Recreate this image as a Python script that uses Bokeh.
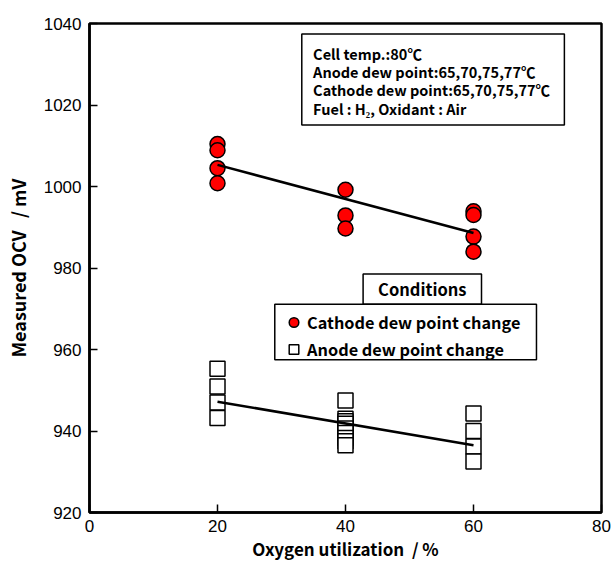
from bokeh.plotting import figure
from bokeh.models import BoxAnnotation, Label, Legend, LegendItem, FixedTicker
from bokeh.embed import file_html
from bokeh.resources import INLINE

# ---- data ----
cathode_x = [20, 20, 20, 20, 40, 40, 40, 60, 60, 60, 60]
cathode_ocv = [1010.4, 1008.9, 1004.5, 1000.8, 999.2, 992.9, 989.7,
               993.9, 993.0, 987.7, 984.0]

anode_x = [20, 20, 20, 20,
           40, 40, 40, 40, 40, 40, 40, 40, 40,
           60, 60, 60, 60]
anode_ocv = [955.3, 950.9, 947.0, 943.2,
             947.5, 943.0, 942.4, 941.8, 940.6, 939.5, 938.3, 937.5, 936.5,
             944.3, 940.0, 936.2, 932.5]

fit_x = [20, 60]
cathode_fit = [1005.3, 988.6]
anode_fit = [947.2, 936.5]

x_ticks = [0, 20, 40, 60, 80]
y_ticks = [920, 940, 960, 980, 1000, 1020, 1040]

info_lines = ["Cell temp.:80℃",
              "Anode dew point:65,70,75,77℃",
              "Cathode dew point:65,70,75,77℃",
              "Fuel : H₂, Oxidant : Air"]
legend_title = "Conditions"
legend_labels = ["Cathode dew point change", "Anode dew point change"]
x_label = "Oxygen utilization\u00a0\u00a0/ %"
y_label = "Measured OCV\u00a0\u00a0\u00a0/ mV"

FONT = "Noto Sans CJK JP"
TFONT = "Liberation Sans"

p = figure(width=611, height=566, x_range=(0, 80), y_range=(920, 1040),
           output_backend="svg", toolbar_location=None,
           min_border_left=89, min_border_right=10, min_border_top=23,
           min_border_bottom=54)

p.xgrid.visible = False
p.ygrid.visible = False
p.outline_line_color = "black"
p.outline_line_width = 2.5
p.outline_line_alpha = 1

for ax in (p.xaxis[0], p.yaxis[0]):
    ax.axis_line_width = 2.5
    ax.major_tick_in = 8
    ax.major_tick_out = 0
    ax.major_tick_line_width = 1.5
    ax.minor_tick_line_color = None
    ax.major_label_text_font = TFONT
    ax.major_label_text_font_size = "17px"
    ax.major_label_text_color = "black"
    ax.axis_label_text_font = FONT
    ax.axis_label_text_font_style = "bold"
    ax.axis_label_text_font_size = "17px"
    ax.axis_label_text_color = "black"

p.xaxis.ticker = FixedTicker(ticks=x_ticks)
p.yaxis.ticker = FixedTicker(ticks=y_ticks)
p.xaxis.axis_label = x_label
p.yaxis.axis_label = y_label
p.yaxis.axis_label_text_font_size = "18px"
p.xaxis.major_label_standoff = 7
p.yaxis.major_label_standoff = 8
p.xaxis.axis_label_standoff = 1
p.yaxis.axis_label_standoff = 10

r_an = p.scatter(anode_x, anode_ocv, marker="square", size=15,
                 fill_color="white", line_color="black", line_width=1.5)
r_cat = p.scatter(cathode_x, cathode_ocv, marker="circle", size=15,
                  fill_color="#ff0000", line_color="black", line_width=1.5)
p.line(fit_x, cathode_fit, line_color="black", line_width=2.5)
p.line(fit_x, anode_fit, line_color="black", line_width=2.5)

# info box
p.add_layout(BoxAnnotation(left=33.17, right=74.2, bottom=1015.1, top=1037.4,
                           fill_color="white", fill_alpha=1,
                           line_color="black", line_width=1.5, line_alpha=1))
for yy, t in zip([1032.7, 1028.3, 1023.8, 1019.2], info_lines):
    p.add_layout(Label(x=34.94, y=yy, text=t, text_baseline="middle",
                       text_font=FONT, text_font_size="14.5px",
                       text_font_style="bold", text_color="black"))

# legend title box and legend frame
p.add_layout(BoxAnnotation(left=42.75, right=61.25, bottom=971.1, top=978.5,
                           fill_color="white", fill_alpha=1,
                           line_color="black", line_width=1.5, line_alpha=1))
p.add_layout(Label(x=52.0, y=974.85, text=legend_title, text_align="center",
                   text_baseline="middle", text_font=FONT,
                   text_font_size="16.5px", text_font_style="bold",
                   text_color="black"))
p.add_layout(BoxAnnotation(left=28.95, right=69.84, bottom=957.5, top=971.1,
                           fill_color="white", fill_alpha=1,
                           line_color="black", line_width=1.5, line_alpha=1))

legend = Legend(items=[LegendItem(label=legend_labels[0], renderers=[r_cat]),
                       LegendItem(label=legend_labels[1], renderers=[r_an])],
                location=(192.1, 151.4), margin=0, padding=0, spacing=3,
                glyph_width=25, glyph_height=24, label_height=24,
                label_standoff=1, border_line_color=None,
                background_fill_alpha=0, label_text_font=FONT,
                label_text_font_size="16.3px", label_text_font_style="bold",
                label_text_color="black")
p.add_layout(legend)

open("out.html", "w").write(file_html(p, INLINE))
